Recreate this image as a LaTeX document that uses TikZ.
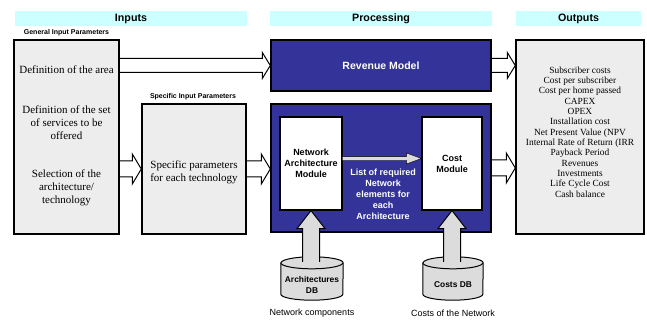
\documentclass[tikz,border=0pt]{standalone}
\usepackage{fontspec}
\setmainfont{Liberation Serif}
\setsansfont{Liberation Sans}
\usetikzlibrary{calc,backgrounds}

\definecolor{headcyan}{HTML}{CCFFFF}
\definecolor{panelgrey}{HTML}{EDEDED}
\definecolor{procblue}{HTML}{333399}
\definecolor{flowgrey}{HTML}{DCDCDC}

% horizontal block arrow: style, source, tip, shaft half width, head half width, head length
\newcommand\hflow[6]{%
  \draw[#1] let \p1=(#2), \p2=(#3) in
    (\x1,{\y1+#4}) -- ({\x2-#6},{\y1+#4}) -- ({\x2-#6},{\y1+#5}) -- (\x2,\y1)
    -- ({\x2-#6},{\y1-#5}) -- ({\x2-#6},{\y1-#4}) -- (\x1,{\y1-#4});}
% upward block arrow: source, tip, shaft half width, head half width, head length
\newcommand\vflow[5]{%
  \draw[greyarrow] let \p1=(#1), \p2=(#2) in
    ({\x2-#3},\y1) -- ({\x2-#3},{\y2-#5}) -- ({\x2-#4},{\y2-#5}) -- (\x2,\y2)
    -- ({\x2+#4},{\y2-#5}) -- ({\x2+#3},{\y2-#5}) -- ({\x2+#3},\y1);}
% database cylinder around a node: node name, x radius
\newcommand\dbcyl[2]{%
  \draw[dbbody] ([yshift=6pt]#1.north west) -- ([yshift=6pt]#1.south west)
    arc[start angle=180,end angle=360,x radius=#2,y radius=6pt]
    -- ([yshift=6pt]#1.north east)
    arc[start angle=0,end angle=180,x radius=#2,y radius=6pt] -- cycle;
  \draw[dbbody] ([yshift=6pt]#1.north west)
    arc[start angle=180,end angle=360,x radius=#2,y radius=6pt];}

\begin{document}
\begin{tikzpicture}[x=1pt,y=-1pt,
  header/.style={fill=headcyan,minimum height=15pt,inner sep=0pt,
    font=\sffamily\bfseries\fontsize{10.7}{12}\selectfont},
  caption/.style={inner sep=0pt,font=\sffamily\bfseries\fontsize{7}{8}\selectfont},
  panel/.style={draw=black,line width=1.4pt,fill=panelgrey,inner sep=0pt},
  procbox/.style={draw=black,line width=1.4pt,fill=procblue,inner sep=0pt},
  module/.style={draw=black,line width=1.2pt,fill=white,inner sep=0pt,align=center,
    font=\sffamily\bfseries\fontsize{9}{11}\selectfont},
  serif/.style={inner sep=0pt,align=center,font=\fontsize{11}{13}\selectfont},
  outtext/.style={inner sep=0pt,align=center,font=\fontsize{9.4}{10.33}\selectfont},
  dbtext/.style={inner sep=0pt,align=center,font=\sffamily\bfseries\fontsize{8.4}{11}\selectfont},
  dbbody/.style={draw=black,line width=1pt,fill=flowgrey},
  dblabel/.style={inner sep=0pt,font=\sffamily\fontsize{9}{11}\selectfont},
  openarrow/.style={draw=black,line width=1pt,fill=white,line join=miter},
  greyarrow/.style={draw=black,line width=1pt,fill=flowgrey,line join=miter},
  innerarrow/.style={fill=flowgrey}]

\useasboundingbox (0,0) rectangle (647,320);

% column headers
\node[header,minimum width=232pt] (hin)  at (131,18.5) {Inputs};
\node[header,minimum width=222pt] (hpro) at (381,18.5) {Processing};
\node[header,minimum width=125pt] (hout) at (578.5,18.5) {Outputs};

% input panels
\node[caption] (gcap) at (66.5,33) {General Input Parameters};
\node[panel,minimum width=105pt,minimum height=194pt] (gen) at (66.5,137) {};
\node[serif] (garea) at (66.5,70) {Definition of the area};
\node[serif] (gserv) at (66.5,123) {Definition of the set\\of services to be\\offered};
\node[serif] (gsel)  at (66.5,188) {Selection of the\\architecture/\\technology};

\node[caption] (scap) at (193,97) {Specific Input Parameters};
\node[panel,minimum width=104pt,minimum height=130pt] (spec) at (194,169) {};
\node[serif] (stext) at (194,172) {Specific parameters\\for each technology};

% processing
\node[procbox,minimum width=220pt,minimum height=51pt,text=white,
  font=\sffamily\bfseries\fontsize{10.5}{12}\selectfont] (rev) at (381,65.5) {Revenue Model};
\node[procbox,minimum width=220pt,minimum height=128pt] (proc) at (381,168) {};
\node[module,minimum width=62pt,minimum height=93pt] (nam) at (311,163.5) {Network\\Architecture\\Module};
\node[module,minimum width=60pt,minimum height=93pt] (cost) at (452,163.5) {Cost\\Module};
\node[inner sep=0pt,align=center,text=white,
  font=\sffamily\bfseries\fontsize{9}{11}\selectfont] (lst) at (383,194.5)
  {List of required\\Network\\elements for\\each\\Architecture};

% outputs
\node[panel,minimum width=128pt,minimum height=194pt] (out) at (580,137) {};
\node[outtext] (otext) at (580,132) {Subscriber costs\\Cost per subscriber\\Cost per home passed\\CAPEX\\OPEX\\Installation cost\\Net Present Value (NPV\\Internal Rate of Return (IRR\\Payback Period\\Revenues\\Investments\\Life Cycle Cost\\Cash balance};

% databases
\node[dbtext,minimum width=62pt,minimum height=31pt] (adb) at (312,284.5) {Architectures\\DB};
\node[dbtext,minimum width=60pt,minimum height=31pt] (cdb) at (453,284.5) {Costs DB};
\begin{scope}[on background layer]
  \dbcyl{adb}{31pt}
  \dbcyl{cdb}{30pt}
\end{scope}
\node[dblabel] (adbl) at (312,313) {Network components};
\node[dblabel] (cdbl) at (453,313) {Costs of the Network};

% flows between the columns
\begin{scope}[on background layer]
  \hflow{openarrow}{gen.east |- rev.west}{rev.west}{7pt}{13pt}{8pt}
  \hflow{openarrow}{gen.east |- spec.west}{spec.west}{8pt}{15pt}{9pt}
  \hflow{openarrow}{spec.east}{proc.west |- spec.east}{8pt}{15pt}{9pt}
  \hflow{openarrow}{rev.east}{out.west |- rev.east}{7pt}{13pt}{8pt}
  \hflow{openarrow}{proc.east}{out.west |- proc.east}{8pt}{15pt}{9pt}
\end{scope}

% flows inside the processing block
\coordinate (nlist) at ([yshift=5pt]nam.east);
\hflow{innerarrow}{nlist}{cost.west |- nlist}{1.8pt}{5.5pt}{15pt}
\vflow{[yshift=7pt]adb.north}{nam.south}{8.5pt}{14pt}{18pt}
\vflow{[yshift=7pt]cdb.north}{cost.south}{8.5pt}{14pt}{18pt}
\end{tikzpicture}
\end{document}
